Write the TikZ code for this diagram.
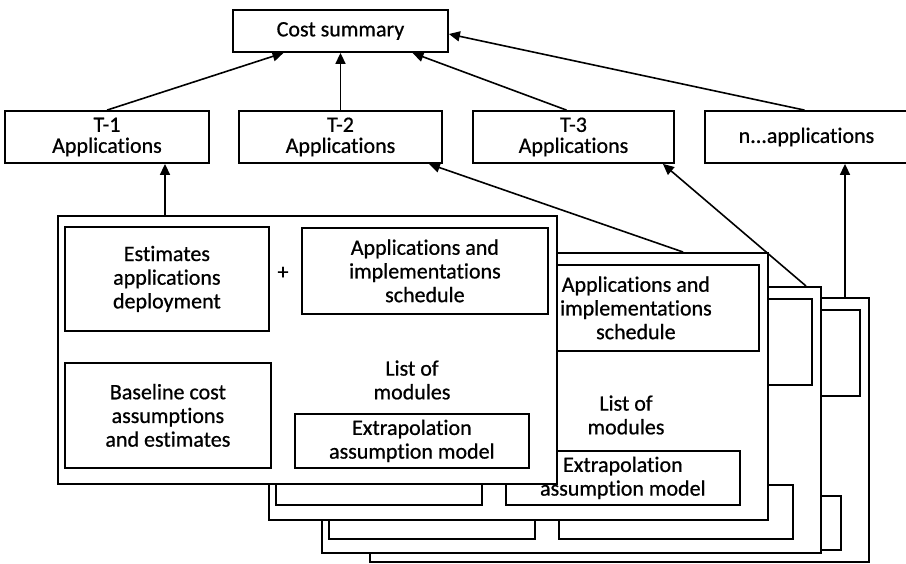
\documentclass[tikz,border=0pt]{standalone}
\usepackage{fontspec}
\setmainfont{Carlito}[Ligatures=NoCommon, FakeBold=0.7]
\usetikzlibrary{arrows.meta,calc}

\tikzset{
  frame/.style={draw, fill=white, line width=1.8pt, inner sep=0pt},
  txt/.style={align=center, inner sep=0pt, font=\fontsize{22}{23.7}\selectfont},
  tbox/.style={frame, align=center, font=\fontsize{22}{21}\selectfont},
  conn/.style={line width=1.6pt, -{Triangle[length=11pt,width=10pt]}},
}

% One sheet of the stack: outer frame plus its four inner boxes
\newcommand\drawpanel[4]{%
  \node[frame, anchor=north west, minimum width=499pt, minimum height=#4pt] (#1) at (#2,#3) {};
  \begin{scope}[shift={(#2,#3)}]
    \node[frame, anchor=north west, minimum width=204pt, minimum height=104pt] (#1-est) at (7,11) {};
    \node[frame, anchor=north west, minimum width=246pt, minimum height=86pt] (#1-app) at (244,12) {};
    \node[frame, anchor=north west, minimum width=206pt, minimum height=105pt] (#1-base) at (7,147) {};
    \node[frame, anchor=north west, minimum width=234pt, minimum height=54pt] (#1-ext) at (237,198) {};
  \end{scope}
}

\begin{document}
\begin{tikzpicture}[x=1pt, y=-1pt]
\useasboundingbox (0,0) rectangle (906,563);

% summary and application rows
\node[tbox, minimum width=215pt, minimum height=42pt] (cost) at (340.5,31) {Cost summary};
\node[tbox, minimum width=204pt, minimum height=52pt] (t1) at (107,137) {T-1\\Applications};
\node[tbox, minimum width=203pt, minimum height=52pt] (t2) at (340.5,137) {T-2\\Applications};
\node[tbox, minimum width=201pt, minimum height=52pt] (t3) at (573.5,137) {T-3\\Applications};
\node[tbox, minimum width=203pt, minimum height=52pt] (tn) at (806.5,137) {n...applications};

% stacked sheets, back to front
\drawpanel{p4}{369}{297}{264}
\drawpanel{p3}{321}{286}{266}
\drawpanel{p2}{268}{252}{267}
\node[txt] (p2-app-t) at (p2-app) {Applications and\\implementations\\schedule};
\node[txt] (p2-list) at ($(p2.north west)+(358,163)$) {List of\\modules};
\node[txt] (p2-ext-t) at (p2-ext) {Extrapolation\\assumption model};

\drawpanel{p1}{57}{215}{268}
\node[txt] (p1-est-t) at (p1-est) {Estimates\\applications\\deployment};
\node[txt] (p1-app-t) at (p1-app) {Applications and\\implementations\\schedule};
\node[txt] (p1-base-t) at (p1-base) {Baseline cost\\assumptions\\and estimates};
\node[txt] (p1-list) at ($(p1.north west)+(355,165)$) {List of\\modules};
\node[txt] (p1-ext-t) at (p1-ext) {Extrapolation\\assumption model};
\node[txt] (plus) at ($(p1.north west)+(226,58)$) {+};

% connectors
\coordinate (p1top) at ($(p1.north west)+(108,0)$);
\coordinate (p2top) at ($(p2.north west)+(415,0)$);
\coordinate (p3top) at ($(p3.north west)+(485,0)$);
\coordinate (p4top) at ($(p4.north west)+(476,0)$);

\draw[conn] (t1.north) -- ($(cost.south)+(-57,0)$);
\draw[conn] (t2.north) -- (cost.south);
\draw[conn] ($(t3.north)+(-7,0)$) -- ($(cost.south)+(72,0)$);
\draw[conn] ($(tn.north)+(-2,0)$) -- ($(cost.east)+(0,3)$);

\draw[conn] (p1top) -- (p1top |- t1.south);
\draw[conn] (p2top) -- ($(t2.south east)+(-14,0)$);
\draw[conn] (p3top) -- ($(t3.south east)+(-12,0)$);
\draw[conn] (p4top) -- (p4top |- tn.south);
\end{tikzpicture}
\end{document}
